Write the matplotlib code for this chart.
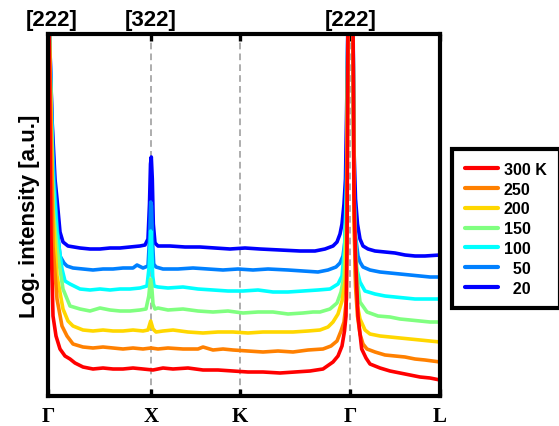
import matplotlib
matplotlib.use("Agg")
import matplotlib.pyplot as plt

# high-symmetry points along the k-path (arb. path distance)
path_pos = [0, 102.7, 192, 302.5, 392]
path_labels = ["\u0393", "X", "K", "\u0393", "L"]
dashed_pos = [102.7, 192, 302.5]
top_pos = [4, 102.7, 302.5]
top_labels = ["[222]", "[322]", "[222]"]

temps = ["300 K", "250", "200", "150", "100", "\u200750", "\u200720"]
colors = ["#ff0000", "#ff8000", "#ffd700", "#80ff80", "#00ffff", "#0080ff", "#0000ff"]

# log intensity (arb.)
x_300 = [1, 3, 5, 8, 12, 17, 22, 27, 35, 45, 55, 65, 75, 85, 95, 105, 115, 125, 140, 155,
         170, 185, 200, 215, 232, 247, 262, 275, 285, 290, 294, 296.5, 298, 299, 300,
         305, 306, 307.5, 310, 313.7, 318, 322, 332, 342, 352, 362, 372, 382, 392]
y_300 = [380, 160, 80, 60, 47, 40, 37, 33, 29, 27, 28, 27, 27, 28, 27, 26, 28, 27, 28, 26,
         26, 25, 24, 24, 23, 24, 25, 27, 34, 40, 50, 65, 80, 147, 380,
         380, 200, 140, 80, 47, 38, 32, 28, 25, 23, 21, 19, 18, 16]

x_250 = [1, 5, 9, 14, 19, 25, 35, 45, 55, 65, 75, 85, 95, 103, 110, 120, 135, 150, 155,
         165, 175, 185, 200, 215, 230, 245, 260, 275, 283, 289, 293, 296, 298.5, 300,
         305, 306, 307.5, 309.5, 312, 315, 319, 327, 337, 347, 357, 367, 377, 392]
y_250 = [380, 150, 97, 70, 60, 52, 49, 48, 49, 48, 47, 48, 47, 48, 47, 48, 47, 47, 49,
         46, 47, 46, 45, 44, 45, 44, 46, 47, 50, 55, 65, 74, 97, 380,
         380, 180, 110, 80, 62, 52, 47, 44, 41, 40, 39, 37, 36, 34]

x_200 = [1, 5, 9, 15, 20, 25, 35, 45, 55, 65, 75, 85, 95, 100, 102.7, 105, 108, 115, 125,
         140, 155, 170, 185, 200, 215, 230, 245, 260, 272, 280, 285, 290, 294, 297, 299,
         300, 305, 306, 307.5, 309.5, 312, 317, 322, 332, 342, 352, 362, 372, 382, 392]
y_200 = [380, 180, 120, 87, 75, 70, 66, 65, 66, 65, 65, 66, 65, 66, 75, 67, 64, 65, 66,
         64, 63, 64, 64, 63, 64, 64, 64, 65, 66, 69, 74, 82, 95, 114, 180,
         380, 380, 180, 120, 90, 77, 66, 62, 60, 59, 58, 57, 56, 55, 54]

x_150 = [1, 5, 9, 15, 22, 32, 42, 52, 62, 72, 82, 92, 98, 100.8, 102.5, 103.7, 105, 107,
         110, 120, 135, 150, 165, 180, 195, 210, 225, 240, 255, 265, 272, 282, 289, 293,
         296, 298.5, 300, 305, 306, 308, 310, 312, 319, 330, 342, 352, 362, 372, 382, 392]
y_150 = [380, 190, 147, 107, 90, 87, 85, 88, 86, 85, 85, 86, 87, 100, 117, 110, 92, 87,
         88, 86, 87, 85, 84, 85, 83, 84, 84, 82, 83, 84, 84, 87, 93, 104,
         120, 180, 380, 380, 200, 140, 110, 94, 84, 80, 79, 77, 76, 75, 74, 74]

x_100 = [1, 5, 9, 14, 17, 22, 32, 42, 52, 62, 72, 82, 92, 99, 101.2, 102.7, 103.7, 104.7,
         106, 110, 120, 135, 150, 165, 180, 195, 210, 225, 240, 255, 270, 282, 290, 294,
         296.5, 298.5, 300, 305, 306, 308, 312, 317, 327, 337, 347, 357, 367, 377, 392]
y_100 = [380, 220, 164, 127, 115, 112, 107, 106, 107, 106, 107, 107, 108, 110, 130, 165,
         150, 120, 110, 109, 108, 109, 107, 106, 105, 105, 106, 104, 104, 105, 106, 107,
         112, 120, 147, 210, 380, 380, 200, 130, 114, 105, 102, 100, 99, 98, 97, 97, 97]

x_50 = [1, 5, 9, 12, 16, 19, 25, 35, 45, 55, 65, 75, 85, 89, 95, 100, 101.7, 102.7,
        103.5, 104.5, 105.7, 108, 115, 130, 145, 160, 175, 190, 205, 220, 240, 255, 270,
        280, 288, 292, 295, 297, 298.5, 300, 305, 306, 307.5, 310, 312, 315, 322, 332,
        342, 352, 362, 372, 382, 392]
y_50 = [380, 240, 170, 140, 133, 130, 128, 127, 126, 127, 127, 128, 128, 131, 128, 130,
        160, 194, 190, 155, 132, 129, 127, 127, 128, 127, 126, 127, 126, 127, 126, 125,
        124, 126, 129, 133, 140, 155, 200, 380, 380, 210, 160, 140, 134, 129, 126, 124,
        123, 122, 121, 120, 119, 119]

x_20 = [1, 4, 7, 9, 12, 15, 20, 32, 42, 52, 62, 72, 82, 92, 97, 100, 101.5, 102.5, 103.3,
        104.3, 105.3, 107, 110, 122, 137, 152, 167, 182, 197, 212, 232, 252, 267, 277,
        285, 289, 292, 294, 296, 297.5, 298.5, 300, 305, 306, 307.5, 309.5, 312, 315, 320,
        327, 337, 347, 357, 367, 377, 392]
y_20 = [380, 277, 217, 197, 164, 154, 150, 148, 147, 147, 148, 148, 149, 150, 151, 157,
        192, 232, 239, 217, 172, 153, 150, 150, 149, 149, 148, 147, 148, 147, 146, 145,
        145, 147, 150, 154, 162, 172, 192, 217, 277, 380, 380, 247, 197, 172, 157, 150,
        147, 145, 144, 143, 141, 140, 140, 141]

series = [(x_300, y_300), (x_250, y_250), (x_200, y_200), (x_150, y_150),
          (x_100, y_100), (x_50, y_50), (x_20, y_20)]

sans = ["Liberation Sans", "DejaVu Sans"]
serif = ["Liberation Serif", "DejaVu Serif"]

fig = plt.figure(figsize=(5.59, 4.27), dpi=100)
ax = fig.add_axes([48 / 559, 30 / 427, 392 / 559, 362 / 427])

for p in dashed_pos:
    ax.axvline(p, color="#a0a0a0", lw=1.2, ls=(0, (4, 2.5)), zorder=1)

# draw the low temperatures first so the 300 K trace sits on top
handles = []
for i in range(len(series) - 1, -1, -1):
    xs, ys = series[i]
    ln, = ax.plot(xs, ys, color=colors[i], lw=2.6, solid_capstyle="round",
                  solid_joinstyle="round", zorder=2 + (len(series) - i))
    handles.append(ln)
handles = handles[::-1]

ax.set_xlim(0, 392)
ax.set_ylim(0, 362)
ax.set_xticks(path_pos)
ax.set_xticklabels(path_labels, family=serif, fontweight="bold", fontsize=15)
ax.set_yticks([])
ax.tick_params(axis="x", direction="in", length=5, width=2.4, top=True, pad=7)
for s in ax.spines.values():
    s.set_linewidth(3)
    s.set_zorder(20)

ax.set_ylabel("Log. intensity [a.u.]", family=sans, fontweight="bold",
              fontsize=16, labelpad=6)

for p, t in zip(top_pos, top_labels):
    ax.text(p, 1.01, t, transform=ax.get_xaxis_transform(), ha="center", va="bottom",
            family=sans, fontweight="bold", fontsize=16)

leg = ax.legend(handles, temps, loc="upper left",
                bbox_to_anchor=(452 / 559, 1 - 150 / 427), bbox_transform=fig.transFigure,
                prop={"family": sans, "weight": "bold", "size": 11.5},
                frameon=True, fancybox=False, edgecolor="black", framealpha=1,
                handlelength=2.1, handletextpad=0.35, labelspacing=0.3,
                borderpad=0.8, borderaxespad=0)
leg.get_frame().set_linewidth(3)
for h in leg.legend_handles:
    h.set_linewidth(3)

fig.savefig("out.png", dpi=100)
